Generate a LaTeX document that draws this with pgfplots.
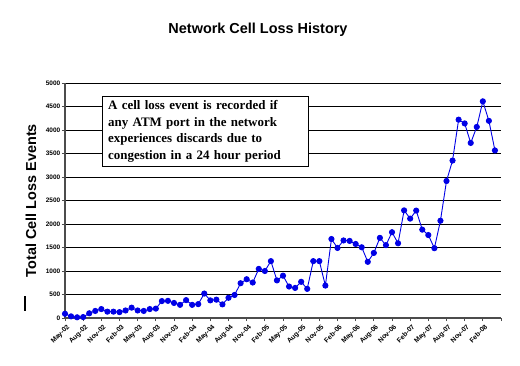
\documentclass[border=0pt]{standalone}
\usepackage{fontspec}
\setmainfont{Liberation Sans}
\newfontfamily\serifbf{Liberation Serif}
\usepackage{pgfplots}
\pgfplotsset{compat=1.18}
\definecolor{ptblue}{RGB}{0,0,230}
\begin{document}
\begin{tikzpicture}
\path[use as bounding box] (-65bp,-48bp) rectangle (455bp,318bp);
\begin{axis}[
  at={(0,0)}, anchor=south west,
  scale only axis, width=436bp, height=235bp,
  xmin=0, xmax=72, ymin=0, ymax=5000,
  axis x line*=bottom, axis y line*=left,
  axis line style={gray!60!black, line width=1.2bp},
  ytick={0,500,...,5000},
  xtick={0,3,...,72},
  xticklabels={May-02,Aug-02,Nov-02,Feb-03,May-03,Aug-03,Nov-03,Feb-04,May-04,Aug-04,Nov-04,Feb-05,May-05,Aug-05,Nov-05,Feb-06,May-06,Aug-06,Nov-06,Feb-07,May-07,Aug-07,Nov-07,Feb-08,{}},
  ymajorgrids, grid style={black, line width=0.8bp},
  tick align=outside, major tick length=3bp,
  tick style={gray!60!black, line width=0.8bp},
  /pgf/number format/assume math mode=true,
  /pgf/number format/1000 sep={},
  x tick label style={rotate=45, anchor=north east, font=\fontsize{6.8}{8}\selectfont\bfseries, inner sep=1bp, yshift=-2bp},
  y tick label style={font=\fontsize{6.5}{7}\selectfont\bfseries, inner sep=1.5bp},
  ylabel={Total Cell Loss Events},
  ylabel style={at={(axis description cs:-0.078,0.5)}, anchor=center, font=\fontsize{14.5}{16}\selectfont\bfseries},
  clip=false,
]
\addplot[color=ptblue, line width=0.9bp, mark=*, mark size=2.6bp, mark options={fill=ptblue, draw=ptblue}] coordinates {
(0,90) (1,35) (2,15) (3,20) (4,100) (5,150) (6,190) (7,135) (8,135) (9,125)
(10,160) (11,220) (12,160) (13,150) (14,190) (15,200) (16,360) (17,365) (18,320) (19,280)
(20,380) (21,280) (22,295) (23,520) (24,375) (25,390) (26,290) (27,430) (28,490) (29,740)
(30,825) (31,755) (32,1045) (33,1000) (34,1210) (35,800) (36,900) (37,670) (38,640) (39,770)
(40,620) (41,1210) (42,1210) (43,690) (44,1680) (45,1490) (46,1650) (47,1640) (48,1575) (49,1505)
(50,1195) (51,1385) (52,1705) (53,1550) (54,1825) (55,1590) (56,2290) (57,2115) (58,2285) (59,1880)
(60,1765) (61,1485) (62,2070) (63,2915) (64,3350) (65,4220) (66,4140) (67,3725) (68,4065) (69,4610)
(70,4195) (71,3565)
};
\end{axis}
\node[font=\fontsize{14.5}{16}\selectfont\bfseries] at (193bp,288bp) {Network Cell Loss History};
\node[draw=black, line width=0.9bp, fill=white, anchor=north west, inner xsep=6bp, inner ysep=4bp, text width=194bp, align=left, font=\fontsize{13}{16.7}\selectfont\serifbf\bfseries] at (36.7bp,222bp) {A cell loss event is recorded if\\any ATM port in the network\\experiences discards due to\\congestion in a 24 hour period};
\draw[line width=1.2bp] (-40bp,7bp) -- (-40bp,22bp);
\end{tikzpicture}
\end{document}
